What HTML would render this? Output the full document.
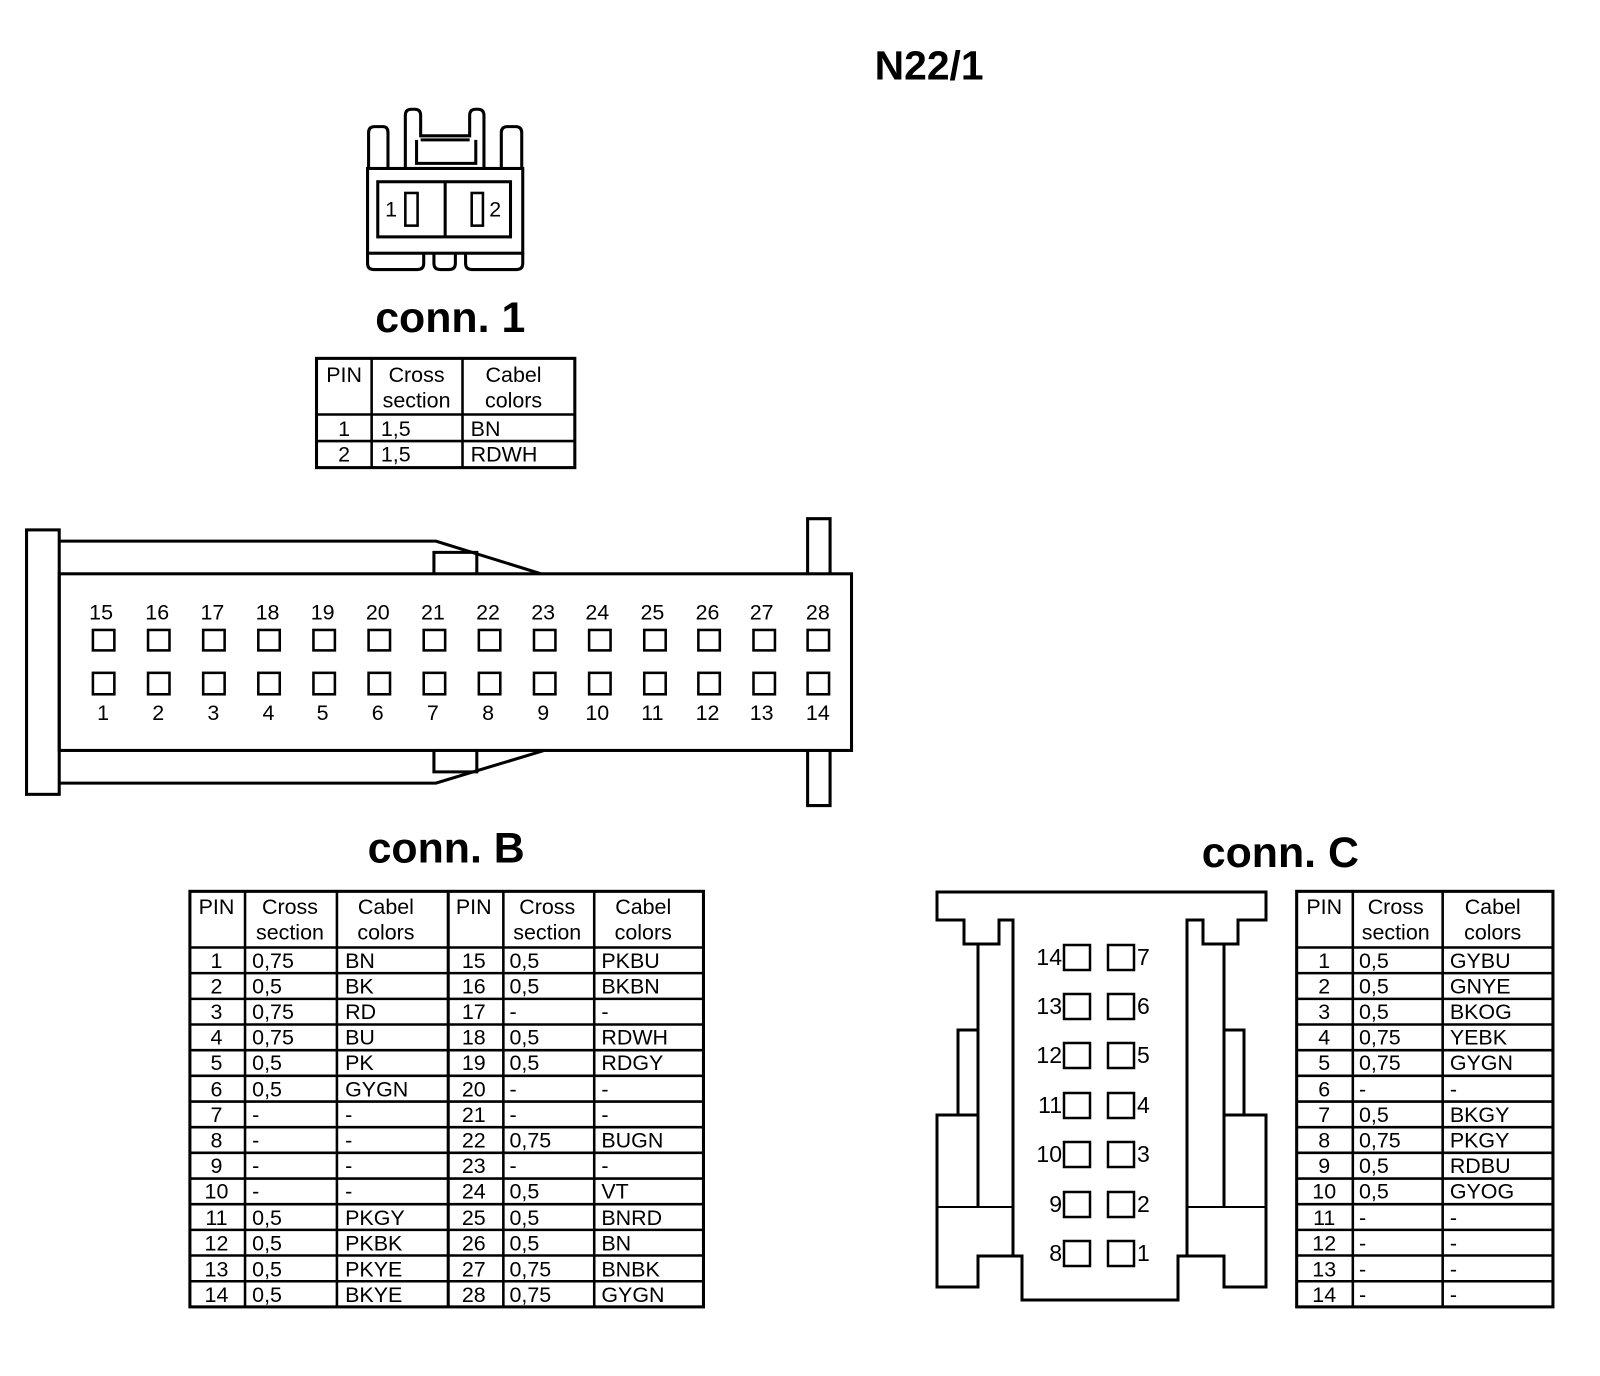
<!DOCTYPE html>
<html><head><meta charset="utf-8"><style>
html,body{margin:0;padding:0;background:#fff}
svg{display:block}
text{font-family:"Liberation Sans",Arial,sans-serif;fill:#000}
.t{font-size:21px}
.c{text-anchor:middle}
.b{font-weight:bold}
</style></head><body>
<svg width="1600" height="1376" viewBox="0 0 1600 1376" xmlns="http://www.w3.org/2000/svg">
<rect width="1600" height="1376" fill="#fff"/>
<g transform="scale(1.021)" fill="none" stroke="#000" stroke-width="3">
<text x="910" y="78" class="b c" style="font-size:40px" stroke="none">N22/1</text>
<text x="441" y="325" class="b c" style="font-size:42px" stroke="none">conn. 1</text>
<text x="437" y="845" class="b c" style="font-size:42px" stroke="none">conn. B</text>
<text x="1254" y="849" class="b c" style="font-size:42px" stroke="none">conn. C</text>

<path d="M361,165 V130 Q361,124 367,124 H375 Q380,124 380,130 V165"/>
<path d="M491,165 V130 Q491,124 497,124 H505 Q511,124 511,130 V165"/>
<path d="M397,165 V113 Q397,107 403,107 H406 Q412,107 412,113 V133 H460 V113 Q460,107 466,107 H468 Q474,107 474,113 V165"/>
<path d="M412,137 H460 M408,137 V160 H466 V137"/>
<rect x="360" y="165" width="152" height="83"/>
<rect x="370" y="178" width="130" height="54"/>
<line x1="436" y1="178" x2="436" y2="232"/>
<rect x="397" y="189" width="12" height="32" stroke-width="2.5"/>
<rect x="462" y="189" width="11" height="32" stroke-width="2.5"/>
<text x="383" y="212" class="t c" stroke="none">1</text>
<text x="485" y="212" class="t c" stroke="none">2</text>
<path d="M360,248 V258 Q360,264 366,264 H409 Q415,264 415,258 V248"/>
<path d="M425,248 V258 Q425,264 431,264 H440 Q446,264 446,258 V248"/>
<path d="M456,248 V258 Q456,264 462,264 H506 Q512,264 512,258 V248"/>

<rect x="310" y="351" width="253" height="107"/>
<path d="M364,351 V458 M453,351 V458 M310,406 H563 M310,432 H563" stroke-width="2.5"/>
<g class="t" stroke="none">
<text x="337" y="374" class="c">PIN</text>
<text x="408" y="374" class="c">Cross</text><text x="408" y="399" class="c">section</text>
<text x="503" y="374" class="c">Cabel</text><text x="503" y="399" class="c">colors</text>
<text x="337" y="427" class="c">1</text><text x="373" y="427">1,5</text><text x="461" y="427">BN</text>
<text x="337" y="452" class="c">2</text><text x="373" y="452">1,5</text><text x="461" y="452">RDWH</text>
</g>

<rect x="26" y="519" width="32" height="259"/>
<path d="M58,530 H427 L530,562"/>
<path d="M425,562 V541 H467 V562"/>
<path d="M58,767 H427 L533,735"/>
<path d="M425,735 V756 H467 V735"/>
<rect x="58" y="562" width="776" height="173"/>
<path d="M791,562 V508 H813 V562"/>
<path d="M791,735 V789 H813 V735"/>
<g stroke-width="2.5">
<rect x="91" y="617" width="21" height="20"/><rect x="145" y="617" width="21" height="20"/><rect x="199" y="617" width="21" height="20"/><rect x="253" y="617" width="21" height="20"/><rect x="307" y="617" width="21" height="20"/><rect x="361" y="617" width="21" height="20"/><rect x="415" y="617" width="21" height="20"/><rect x="469" y="617" width="21" height="20"/><rect x="523" y="617" width="21" height="20"/><rect x="577" y="617" width="21" height="20"/><rect x="631" y="617" width="21" height="20"/><rect x="684" y="617" width="21" height="20"/><rect x="738" y="617" width="21" height="20"/><rect x="791" y="617" width="21" height="20"/>
<rect x="91" y="659" width="21" height="21"/><rect x="145" y="659" width="21" height="21"/><rect x="199" y="659" width="21" height="21"/><rect x="253" y="659" width="21" height="21"/><rect x="307" y="659" width="21" height="21"/><rect x="361" y="659" width="21" height="21"/><rect x="415" y="659" width="21" height="21"/><rect x="469" y="659" width="21" height="21"/><rect x="523" y="659" width="21" height="21"/><rect x="577" y="659" width="21" height="21"/><rect x="631" y="659" width="21" height="21"/><rect x="684" y="659" width="21" height="21"/><rect x="738" y="659" width="21" height="21"/><rect x="791" y="659" width="21" height="21"/>
</g>
<g class="t c" stroke="none">
<text x="99" y="607">15</text><text x="154" y="607">16</text><text x="208" y="607">17</text><text x="262" y="607">18</text><text x="316" y="607">19</text><text x="370" y="607">20</text><text x="424" y="607">21</text><text x="478" y="607">22</text><text x="532" y="607">23</text><text x="585" y="607">24</text><text x="639" y="607">25</text><text x="693" y="607">26</text><text x="746" y="607">27</text><text x="801" y="607">28</text>
<text x="101" y="705">1</text><text x="155" y="705">2</text><text x="209" y="705">3</text><text x="263" y="705">4</text><text x="316" y="705">5</text><text x="370" y="705">6</text><text x="424" y="705">7</text><text x="478" y="705">8</text><text x="532" y="705">9</text><text x="585" y="705">10</text><text x="639" y="705">11</text><text x="693" y="705">12</text><text x="746" y="705">13</text><text x="801" y="705">14</text>
</g>

<rect x="186" y="873" width="503" height="407"/>
<path d="M240,873 V1280 M330,873 V1280 M493,873 V1280 M582,873 V1280" stroke-width="2.5"/>
<path d="M439,873 V1280"/>
<path d="M186,928 H689 M186,953.1 H689 M186,978.3 H689 M186,1003.4 H689 M186,1028.6 H689 M186,1053.7 H689 M186,1078.9 H689 M186,1104 H689 M186,1129.1 H689 M186,1154.3 H689 M186,1179.4 H689 M186,1204.6 H689 M186,1229.7 H689 M186,1254.9 H689" stroke-width="2.5"/>
<g class="t" stroke="none">
<text x="212" y="895" class="c">PIN</text><text x="284" y="895" class="c">Cross</text><text x="284" y="920" class="c">section</text><text x="378" y="895" class="c">Cabel</text><text x="378" y="920" class="c">colors</text>
<text x="464" y="895" class="c">PIN</text><text x="536" y="895" class="c">Cross</text><text x="536" y="920" class="c">section</text><text x="630" y="895" class="c">Cabel</text><text x="630" y="920" class="c">colors</text>
<g class="c">
<text x="212" y="948">1</text><text x="212" y="973">2</text><text x="212" y="998">3</text><text x="212" y="1023">4</text><text x="212" y="1048">5</text><text x="212" y="1074">6</text><text x="212" y="1099">7</text><text x="212" y="1124">8</text><text x="212" y="1149">9</text><text x="212" y="1174">10</text><text x="212" y="1200">11</text><text x="212" y="1225">12</text><text x="212" y="1250">13</text><text x="212" y="1275">14</text>
<text x="464" y="948">15</text><text x="464" y="973">16</text><text x="464" y="998">17</text><text x="464" y="1023">18</text><text x="464" y="1048">19</text><text x="464" y="1074">20</text><text x="464" y="1099">21</text><text x="464" y="1124">22</text><text x="464" y="1149">23</text><text x="464" y="1174">24</text><text x="464" y="1200">25</text><text x="464" y="1225">26</text><text x="464" y="1250">27</text><text x="464" y="1275">28</text>
</g>
<text x="247" y="948">0,75</text><text x="247" y="973">0,5</text><text x="247" y="998">0,75</text><text x="247" y="1023">0,75</text><text x="247" y="1048">0,5</text><text x="247" y="1074">0,5</text><text x="247" y="1099">-</text><text x="247" y="1124">-</text><text x="247" y="1149">-</text><text x="247" y="1174">-</text><text x="247" y="1200">0,5</text><text x="247" y="1225">0,5</text><text x="247" y="1250">0,5</text><text x="247" y="1275">0,5</text>
<text x="338" y="948">BN</text><text x="338" y="973">BK</text><text x="338" y="998">RD</text><text x="338" y="1023">BU</text><text x="338" y="1048">PK</text><text x="338" y="1074">GYGN</text><text x="338" y="1099">-</text><text x="338" y="1124">-</text><text x="338" y="1149">-</text><text x="338" y="1174">-</text><text x="338" y="1200">PKGY</text><text x="338" y="1225">PKBK</text><text x="338" y="1250">PKYE</text><text x="338" y="1275">BKYE</text>
<text x="499" y="948">0,5</text><text x="499" y="973">0,5</text><text x="499" y="998">-</text><text x="499" y="1023">0,5</text><text x="499" y="1048">0,5</text><text x="499" y="1074">-</text><text x="499" y="1099">-</text><text x="499" y="1124">0,75</text><text x="499" y="1149">-</text><text x="499" y="1174">0,5</text><text x="499" y="1200">0,5</text><text x="499" y="1225">0,5</text><text x="499" y="1250">0,75</text><text x="499" y="1275">0,75</text>
<text x="589" y="948">PKBU</text><text x="589" y="973">BKBN</text><text x="589" y="998">-</text><text x="589" y="1023">RDWH</text><text x="589" y="1048">RDGY</text><text x="589" y="1074">-</text><text x="589" y="1099">-</text><text x="589" y="1124">BUGN</text><text x="589" y="1149">-</text><text x="589" y="1174">VT</text><text x="589" y="1200">BNRD</text><text x="589" y="1225">BN</text><text x="589" y="1250">BNBK</text><text x="589" y="1275">GYGN</text>
</g>

<rect x="1270" y="873" width="251" height="407"/>
<path d="M1325,873 V1280 M1413,873 V1280" stroke-width="2.5"/>
<path d="M1270,928 H1521 M1270,953.1 H1521 M1270,978.3 H1521 M1270,1003.4 H1521 M1270,1028.6 H1521 M1270,1053.7 H1521 M1270,1078.9 H1521 M1270,1104 H1521 M1270,1129.1 H1521 M1270,1154.3 H1521 M1270,1179.4 H1521 M1270,1204.6 H1521 M1270,1229.7 H1521 M1270,1254.9 H1521" stroke-width="2.5"/>
<g class="t" stroke="none">
<text x="1297" y="895" class="c">PIN</text><text x="1367" y="895" class="c">Cross</text><text x="1367" y="920" class="c">section</text><text x="1462" y="895" class="c">Cabel</text><text x="1462" y="920" class="c">colors</text>
<g class="c">
<text x="1297" y="948">1</text><text x="1297" y="973">2</text><text x="1297" y="998">3</text><text x="1297" y="1023">4</text><text x="1297" y="1048">5</text><text x="1297" y="1074">6</text><text x="1297" y="1099">7</text><text x="1297" y="1124">8</text><text x="1297" y="1149">9</text><text x="1297" y="1174">10</text><text x="1297" y="1200">11</text><text x="1297" y="1225">12</text><text x="1297" y="1250">13</text><text x="1297" y="1275">14</text>
</g>
<text x="1331" y="948">0,5</text><text x="1331" y="973">0,5</text><text x="1331" y="998">0,5</text><text x="1331" y="1023">0,75</text><text x="1331" y="1048">0,75</text><text x="1331" y="1074">-</text><text x="1331" y="1099">0,5</text><text x="1331" y="1124">0,75</text><text x="1331" y="1149">0,5</text><text x="1331" y="1174">0,5</text><text x="1331" y="1200">-</text><text x="1331" y="1225">-</text><text x="1331" y="1250">-</text><text x="1331" y="1275">-</text>
<text x="1420" y="948">GYBU</text><text x="1420" y="973">GNYE</text><text x="1420" y="998">BKOG</text><text x="1420" y="1023">YEBK</text><text x="1420" y="1048">GYGN</text><text x="1420" y="1074">-</text><text x="1420" y="1099">BKGY</text><text x="1420" y="1124">PKGY</text><text x="1420" y="1149">RDBU</text><text x="1420" y="1174">GYOG</text><text x="1420" y="1200">-</text><text x="1420" y="1225">-</text><text x="1420" y="1250">-</text><text x="1420" y="1275">-</text>
</g>
</g>

<g fill="none" stroke="#000" stroke-width="3">
<path d="M937,892 H1266 V920 H1238 V944 H1203 V920 H1187 V1256 H1178 V1300 H1022 V1256 H1013 V920 H999 V944 H964 V920 H937 Z"/>
<path d="M978,944 V1207 M1224,944 V1207"/>
<path d="M978,1030 H958 V1115 M1224,1030 H1244 V1115"/>
<path d="M978,1115 H937 V1287 H978 V1256 H1013 M1224,1115 H1266 V1287 H1224 V1256 H1187"/>
<path d="M937,1207 H1013 M1266,1207 H1187" stroke-width="2"/>
<g stroke-width="2.5">
<rect x="1064" y="945" width="26" height="25"/><rect x="1108" y="945" width="26" height="25"/>
<rect x="1064" y="994" width="26" height="25"/><rect x="1108" y="994" width="26" height="25"/>
<rect x="1064" y="1043" width="26" height="25"/><rect x="1108" y="1043" width="26" height="25"/>
<rect x="1064" y="1093" width="26" height="25"/><rect x="1108" y="1093" width="26" height="25"/>
<rect x="1064" y="1142" width="26" height="25"/><rect x="1108" y="1142" width="26" height="25"/>
<rect x="1064" y="1192" width="26" height="25"/><rect x="1108" y="1192" width="26" height="25"/>
<rect x="1064" y="1241" width="26" height="25"/><rect x="1108" y="1241" width="26" height="25"/>
</g>
<g stroke="none" style="font-size:23px">
<g style="text-anchor:end">
<text x="1062" y="965">14</text><text x="1062" y="1014">13</text><text x="1062" y="1063">12</text><text x="1062" y="1113">11</text><text x="1062" y="1162">10</text><text x="1062" y="1212">9</text><text x="1062" y="1261">8</text>
</g>
<text x="1137" y="965">7</text><text x="1137" y="1014">6</text><text x="1137" y="1063">5</text><text x="1137" y="1113">4</text><text x="1137" y="1162">3</text><text x="1137" y="1212">2</text><text x="1137" y="1261">1</text>
</g>
</g>
</svg>
</body></html>
